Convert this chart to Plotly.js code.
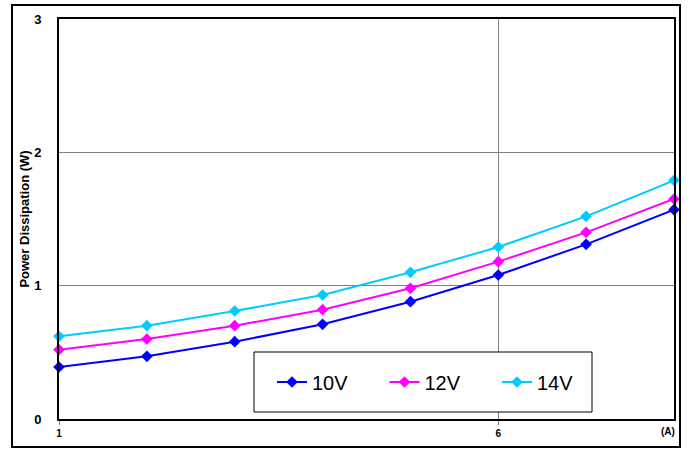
<!DOCTYPE html>
<html>
<head>
<meta charset="utf-8">
<script src="https://cdn.plot.ly/plotly-3.0.1.min.js"></script>
<style>html,body{margin:0;padding:0;background:#fff;}#chart{width:690px;height:449px;}</style>
</head>
<body>
<div id="chart"></div>
<script>
const current = [1, 2, 3, 4, 5, 6, 7, 8];
const seriesNames = ["10V", "12V", "14V"];
const v10 = [0.39, 0.47, 0.58, 0.71, 0.88, 1.08, 1.31, 1.57];
const v12 = [0.52, 0.60, 0.70, 0.82, 0.98, 1.18, 1.40, 1.65];
const v14 = [0.62, 0.70, 0.81, 0.93, 1.10, 1.29, 1.52, 1.79];
const colors = ["#0000FF", "#FF00FF", "#00CCFF"];
const xTicks = [1, 6];
const yTicks = [0, 1, 2, 3];

const L = 59, R = 674, T = 19, B = 419, W = 690, H = 449;
const pw = R - L, ph = B - T;
const px = x => (x - L) / pw;
const py = y => (B - y) / ph;

const values = [v10, v12, v14];
const legendIds = ["legend", "legend2", "legend3"];
const traces = values.map((v, i) => ({
  x: current, y: v, name: seriesNames[i], type: "scatter", mode: "lines+markers",
  line: {color: colors[i], width: 2},
  marker: {symbol: "diamond", size: 9, color: colors[i]},
  cliponaxis: false, legend: legendIds[i]
}));

const legendStyle = i => ({
  orientation: "h", x: px(272 + 112.5 * i), y: py(382), xanchor: "left", yanchor: "middle",
  font: {size: 20, color: "#000", family: "Liberation Sans, Arial, sans-serif"},
  bgcolor: "rgba(0,0,0,0)", borderwidth: 0, itemwidth: 30
});

const layout = {
  width: W, height: H,
  margin: {l: L, r: W - R, t: T, b: H - B, pad: 0},
  paper_bgcolor: "#fff", plot_bgcolor: "#fff",
  font: {family: "Liberation Sans, Arial, sans-serif", color: "#000"},
  showlegend: true,
  legend: legendStyle(0), legend2: legendStyle(1), legend3: legendStyle(2),
  xaxis: {
    range: [1, 8], tickvals: xTicks, ticktext: xTicks.map(String),
    showgrid: true, gridcolor: "#808080", gridwidth: 1,
    showline: true, linecolor: "#000", linewidth: 2, mirror: true,
    ticks: "outside", ticklen: 4, tickcolor: "#808080", tickwidth: 1,
    tickfont: {size: 10, family: "Liberation Sans, Arial, sans-serif", weight: "bold"},
    zeroline: false, fixedrange: true
  },
  yaxis: {
    range: [0, 3], tickvals: yTicks, ticktext: yTicks.map(String),
    showgrid: true, gridcolor: "#808080", gridwidth: 1,
    showline: true, linecolor: "#000", linewidth: 2, mirror: true,
    ticks: "", ticklabelstandoff: 13,
    tickfont: {size: 13, family: "Liberation Sans, Arial, sans-serif", weight: "bold"},
    title: {text: "Power Dissipation (W)", standoff: 2,
            font: {size: 13, family: "Liberation Sans, Arial, sans-serif", weight: "bold"}},
    zeroline: false, fixedrange: true
  },
  shapes: [
    {type: "rect", xref: "paper", yref: "paper", x0: px(12), x1: px(680), y0: py(447), y1: py(5),
     line: {color: "#000", width: 2}, fillcolor: "rgba(0,0,0,0)", layer: "above"},
    {type: "rect", xref: "paper", yref: "paper", x0: px(254), x1: px(592), y0: py(412), y1: py(352),
     line: {color: "#000", width: 1}, fillcolor: "#fff", layer: "above"}
  ],
  annotations: [
    {text: "(A)", xref: "paper", yref: "paper", x: px(668), y: py(431), showarrow: false,
     font: {size: 10, weight: "bold"}, xanchor: "center", yanchor: "middle"}
  ]
};

Plotly.newPlot("chart", traces, layout, {displayModeBar: false, staticPlot: true});
</script>
</body>
</html>
